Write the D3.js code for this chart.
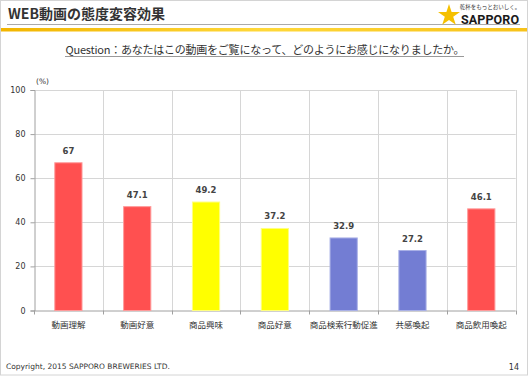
<!DOCTYPE html>
<html>
<head>
<meta charset="utf-8">
<script src="https://cdn.jsdelivr.net/npm/d3@7"></script>
<style>
  html, body { margin: 0; padding: 0; background: #fff; }
  svg { display: block; font-family: "Noto Sans CJK JP", "DejaVu Sans", sans-serif; }
</style>
</head>
<body>
<div id="chart"></div>
<script>
const categories = ['動画理解', '動画好意', '商品興味', '商品好意', '商品検索行動促進', '共感喚起', '商品飲用喚起'];
const values = [67, 47.1, 49.2, 37.2, 32.9, 27.2, 46.1];
const groups = ['red', 'red', 'yellow', 'yellow', 'blue', 'blue', 'red'];
const yTicks = [0, 20, 40, 60, 80, 100];

const W = 529, H = 377;
const plot = { left: 34, right: 515.7, top: 90, bottom: 310.5 };
const latin = '"DejaVu Sans", sans-serif';

const fillOf = { red: '#FF5050', yellow: '#FFFF00', blue: '#737DD3' };
const strokeOf = { red: '#FF9A9A', yellow: '#FFFF80', blue: '#A9B0E6' };

const svg = d3.select('#chart').append('svg')
  .attr('width', W).attr('height', H);

// slide frame
svg.append('rect').attr('x', 0.5).attr('y', 0.5).attr('width', W - 2).attr('height', H - 2.5)
  .attr('fill', '#fff').attr('stroke', '#D4D4D4');

// header
const grad = svg.append('defs').append('linearGradient').attr('id', 'band');
grad.append('stop').attr('offset', '0%').attr('stop-color', '#F2B500');
grad.append('stop').attr('offset', '50%').attr('stop-color', '#FFD83A');
grad.append('stop').attr('offset', '100%').attr('stop-color', '#F7C21A');

svg.append('text').attr('x', 8).attr('y', 19).attr('font-size', 14).attr('font-weight', 600)
  .attr('fill', '#333').text('WEB動画の態度変容効果');
svg.append('line').attr('x1', 7).attr('x2', 520).attr('y1', 24.5).attr('y2', 24.5)
  .attr('stroke', '#AAAAAA').attr('stroke-width', 1);
svg.append('rect').attr('x', 1).attr('y', 28).attr('width', W - 3).attr('height', 3.5)
  .attr('fill', 'url(#band)');

// logo
const star = d3.symbol().type(d3.symbolStar).size(150)();
svg.append('path').attr('d', star).attr('transform', 'translate(449,15.5)').attr('fill', '#F5C000');
svg.append('text').attr('x', 490).attr('y', 8.5).attr('text-anchor', 'middle').attr('font-size', 5.5)
  .attr('fill', '#333').text('乾杯をもっとおいしく。');
svg.append('text').attr('x', 461).attr('y', 24).attr('font-size', 12.5).attr('font-weight', 'bold')
  .style('font-family', '"Roboto", "DejaVu Sans Condensed", sans-serif')
  .attr('fill', '#1a1a1a').attr('textLength', 58).text('SAPPORO');

// question
svg.append('text').attr('x', 265).attr('y', 54).attr('text-anchor', 'middle').attr('font-size', 11)
  .attr('fill', '#333').attr('textLength', 399)
  .text('Question：あなたはこの動画をご覧になって、どのようにお感じになりましたか。');
svg.append('line').attr('x1', 65).attr('x2', 464).attr('y1', 56.5).attr('y2', 56.5)
  .attr('stroke', '#999').attr('stroke-width', 1);

// scales
const x = d3.scaleBand().domain(categories).range([plot.left, plot.right]).paddingInner(0.59).paddingOuter(0.295);
const xb = d3.scaleBand().domain(categories).range([plot.left, plot.right]);
const y = d3.scaleLinear().domain([0, 100]).range([plot.bottom, plot.top]);
const edges = categories.map(c => xb(c)).concat([plot.right]);

const g = svg.append('g');

// horizontal grid
g.selectAll('.hgrid').data(yTicks.filter(d => d > 0)).join('line')
  .attr('x1', plot.left).attr('x2', plot.right)
  .attr('y1', d => Math.round(y(d)) + 0.5).attr('y2', d => Math.round(y(d)) + 0.5)
  .attr('stroke', '#D6D6D6');
// vertical grid at band boundaries
g.selectAll('.vgrid').data(edges.slice(1)).join('line')
  .attr('x1', d => Math.round(d) + 0.5).attr('x2', d => Math.round(d) + 0.5)
  .attr('y1', plot.top).attr('y2', plot.bottom)
  .attr('stroke', '#D6D6D6');

// y axis
const yAxis = d3.axisLeft(y).tickValues(yTicks).tickSize(4).tickPadding(5);
const yG = svg.append('g').attr('transform', `translate(${plot.left + 0.5},0)`).call(yAxis);
yG.select('.domain').attr('stroke', '#A0A0A0');
yG.selectAll('line').attr('stroke', '#A0A0A0');
yG.selectAll('text').attr('fill', '#333').attr('font-size', 8).style('font-family', latin);
svg.append('text').attr('x', 36).attr('y', 84).attr('font-size', 7.5).attr('fill', '#333')
  .style('font-family', latin).text('(%)');

// x axis
svg.append('line').attr('x1', plot.left).attr('x2', plot.right)
  .attr('y1', plot.bottom + 0.5).attr('y2', plot.bottom + 0.5).attr('stroke', '#A0A0A0');
svg.selectAll('.xtick').data(edges).join('line')
  .attr('x1', d => Math.round(d) + 0.5).attr('x2', d => Math.round(d) + 0.5)
  .attr('y1', plot.bottom).attr('y2', plot.bottom + 4).attr('stroke', '#A0A0A0');
svg.selectAll('.xlab').data(categories).join('text')
  .attr('x', d => xb(d) + xb.bandwidth() / 2).attr('y', 327.5)
  .attr('text-anchor', 'middle').attr('font-size', 8.5).attr('fill', '#333').text(d => d);

// bars
svg.selectAll('.bar').data(values).join('rect')
  .attr('x', (d, i) => x(categories[i]) + 0.5)
  .attr('y', d => y(d))
  .attr('width', x.bandwidth() - 1)
  .attr('height', d => y(0) - y(d))
  .attr('fill', (d, i) => fillOf[groups[i]])
  .attr('stroke', (d, i) => strokeOf[groups[i]]).attr('stroke-width', 1);

// value labels
svg.selectAll('.val').data(values).join('text')
  .attr('x', (d, i) => x(categories[i]) + x.bandwidth() / 2)
  .attr('y', d => y(d) - 9)
  .attr('text-anchor', 'middle').attr('font-size', 8.5).attr('font-weight', 'bold')
  .style('font-family', latin).attr('fill', '#444')
  .text(d => d);

// footer
svg.append('text').attr('x', 6).attr('y', 369).attr('font-size', 7.5).attr('fill', '#333')
  .style('font-family', latin).text('Copyright, 2015 SAPPORO BREWERIES LTD.');
svg.append('text').attr('x', 519).attr('y', 370).attr('text-anchor', 'end').attr('font-size', 8)
  .attr('fill', '#333').style('font-family', latin).text('14');
</script>
</body>
</html>
